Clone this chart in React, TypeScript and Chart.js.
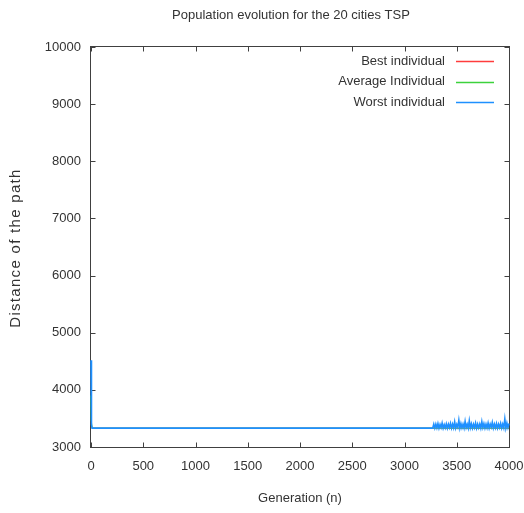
import React, { useEffect, useRef } from "react";
import { Chart, registerables } from "chart.js";

Chart.register(...registerables);

const TITLE = "Population evolution for the 20 cities TSP";
const X_TITLE = "Generation (n)";
const Y_TITLE = "Distance of the path";
const SERIES_NAMES = ["Best individual", "Average Individual", "Worst individual"];
const SERIES_COLORS = ["#ff3c3c", "#3cd23c", "#1e90ff"];

const bestGens = [0, 4, 10, 4000];
const bestValues = [3390, 3385, 3330, 3330];

const avgGens = [0, 4, 10, 4000];
const avgValues = [3900, 3450, 3330, 3330];

const worstGens = [
  0, 3, 6, 10, 3270,
  3280, 3290, 3300, 3310, 3320, 3330, 3340, 3350, 3360, 3370,
  3380, 3390, 3400, 3410, 3420, 3430, 3440, 3450, 3460, 3470,
  3480, 3490, 3500, 3510, 3520, 3530, 3540, 3550, 3560, 3570,
  3580, 3590, 3600, 3610, 3620, 3630, 3640, 3650, 3660, 3670,
  3680, 3690, 3700, 3710, 3720, 3730, 3740, 3750, 3760, 3770,
  3780, 3790, 3800, 3810, 3820, 3830, 3840, 3850, 3860, 3870,
  3880, 3890, 3900, 3910, 3920, 3930, 3940, 3950, 3960, 3970,
  3980, 3990, 4000,
];
const worstValues = [
  4520, 3420, 3400, 3330, 3330,
  3400, 3330, 3400, 3335, 3410, 3330, 3395, 3340, 3420, 3330,
  3390, 3335, 3405, 3330, 3400, 3340, 3415, 3330, 3400, 3335,
  3440, 3330, 3395, 3345, 3470, 3330, 3410, 3335, 3400, 3330,
  3450, 3340, 3400, 3330, 3460, 3335, 3405, 3330, 3400, 3340,
  3420, 3330, 3400, 3335, 3400, 3330, 3445, 3340, 3410, 3330,
  3400, 3335, 3420, 3330, 3400, 3345, 3430, 3330, 3400, 3335,
  3410, 3330, 3400, 3340, 3415, 3330, 3400, 3335, 3490, 3330,
  3420, 3340, 3410,
];

const X_MIN = 0;
const X_MAX = 4000;
const X_STEP = 500;
const Y_MIN = 3000;
const Y_MAX = 10000;
const Y_STEP = 1000;

const FONT = "'Liberation Sans', Arial, sans-serif";
const TEXT_COLOR = "#333333";
const AXIS_COLOR = "#404040";

const toPoints = (xs: number[], ys: number[]) => xs.map((x, i) => ({ x, y: ys[i] }));

const framePlugin = {
  id: "frame",
  beforeDatasetsDraw(chart: any) {
    const { ctx, chartArea } = chart;
    const { left, right, top, bottom } = chartArea;
    ctx.save();
    ctx.strokeStyle = AXIS_COLOR;
    ctx.lineWidth = 1;
    const L = Math.round(left) - 0.5;
    const R = Math.round(right) + 0.5;
    const T = Math.round(top) - 0.5;
    const B = Math.round(bottom) + 0.5;
    ctx.strokeRect(L, T, R - L, B - T);
    const tl = 5;
    ctx.beginPath();
    const xs = chart.scales.x;
    xs.ticks.forEach((t: any) => {
      const px = Math.round(xs.getPixelForValue(t.value)) + 0.5;
      ctx.moveTo(px, B);
      ctx.lineTo(px, B - tl);
      ctx.moveTo(px, T);
      ctx.lineTo(px, T + tl);
    });
    const ys = chart.scales.y;
    ys.ticks.forEach((t: any) => {
      const py = Math.round(ys.getPixelForValue(t.value)) + 0.5;
      ctx.moveTo(L, py);
      ctx.lineTo(L + tl, py);
      ctx.moveTo(R, py);
      ctx.lineTo(R - tl, py);
    });
    ctx.stroke();
    ctx.restore();
  },
  afterDraw(chart: any) {
    const { ctx, chartArea } = chart;
    ctx.save();
    ctx.font = `13px ${FONT}`;
    ctx.fillStyle = TEXT_COLOR;
    ctx.textAlign = "center";
    ctx.textBaseline = "middle";
    ctx.fillText(TITLE, (chartArea.left + chartArea.right) / 2 - 9, 15);

    ctx.save();
    ctx.font = `15px ${FONT}`;
    ctx.translate(16, 248);
    ctx.rotate(-Math.PI / 2);
    (ctx as any).letterSpacing = "1.3px";
    ctx.fillText(Y_TITLE, 0, 0);
    ctx.restore();

    ctx.textAlign = "right";
    const rows = [61, 81.5, 102];
    SERIES_NAMES.forEach((name, i) => {
      ctx.fillStyle = TEXT_COLOR;
      ctx.fillText(name, 445, rows[i]);
      ctx.strokeStyle = SERIES_COLORS[i];
      ctx.lineWidth = 1.5;
      ctx.beginPath();
      ctx.moveTo(456, Math.round(rows[i]) + 0.5);
      ctx.lineTo(494, Math.round(rows[i]) + 0.5);
      ctx.stroke();
    });
    ctx.restore();
  },
};

const plainTick = (v: any) => String(v);

export default function App() {
  const ref = useRef<HTMLCanvasElement | null>(null);

  useEffect(() => {
    if (!ref.current) return;
    const chart = new Chart(ref.current, {
      type: "line",
      data: {
        datasets: [
          {
            label: SERIES_NAMES[0],
            data: toPoints(bestGens, bestValues),
            borderColor: SERIES_COLORS[0],
            borderWidth: 1,
            pointRadius: 0,
            tension: 0,
            clip: 3,
            order: 2,
          },
          {
            label: SERIES_NAMES[1],
            data: toPoints(avgGens, avgValues),
            borderColor: SERIES_COLORS[1],
            borderWidth: 1,
            pointRadius: 0,
            tension: 0,
            clip: 3,
            order: 1,
          },
          {
            label: SERIES_NAMES[2],
            data: toPoints(worstGens, worstValues),
            borderColor: SERIES_COLORS[2],
            borderWidth: 1.6,
            pointRadius: 0,
            tension: 0,
            clip: 3,
            order: 0,
          },
        ],
      },
      options: {
        responsive: false,
        animation: false,
        layout: { padding: { left: 0, right: 15, top: 47, bottom: 0 } },
        plugins: {
          legend: { display: false },
          tooltip: { enabled: false },
          title: { display: false },
        },
        scales: {
          x: {
            type: "linear",
            min: X_MIN,
            max: X_MAX,
            grid: { display: false, drawTicks: false },
            border: { display: false },
            ticks: {
              stepSize: X_STEP,
              color: TEXT_COLOR,
              font: { family: FONT, size: 13 },
              padding: 12,
              maxRotation: 0,
              callback: plainTick,
            },
            title: {
              display: true,
              text: X_TITLE,
              color: TEXT_COLOR,
              font: { family: FONT, size: 13 },
              padding: { top: 0, bottom: 7 },
            },
            afterFit: (s: any) => {
              s.height = 66;
              s.paddingLeft = 0;
              s.paddingRight = 0;
            },
          },
          y: {
            type: "linear",
            min: Y_MIN,
            max: Y_MAX,
            grid: { display: false, drawTicks: false },
            border: { display: false },
            ticks: {
              stepSize: Y_STEP,
              color: TEXT_COLOR,
              font: { family: FONT, size: 13 },
              padding: 10,
              callback: plainTick,
            },
            title: { display: false },
            afterFit: (s: any) => {
              s.width = 91;
              s.paddingTop = 0;
              s.paddingBottom = 0;
            },
          },
        },
      },
      plugins: [framePlugin],
    });
    return () => chart.destroy();
  }, []);

  return (
    <div style={{ position: "absolute", left: 0, top: 0, width: 524, height: 513, background: "#fff" }}>
      <canvas ref={ref} width={524} height={513} />
    </div>
  );
}
